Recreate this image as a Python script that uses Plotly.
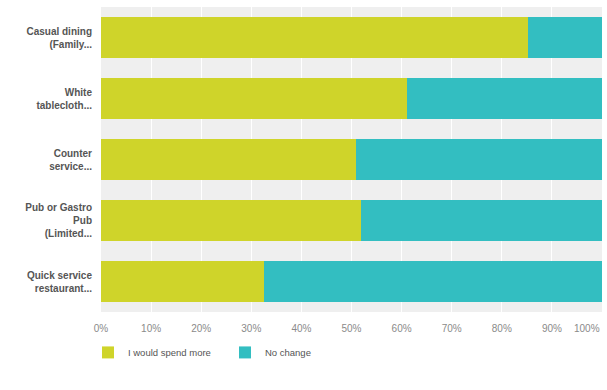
import plotly.graph_objects as go

# Survey answers per restaurant type (percent of respondents)
categories = [
    "Casual dining<br>(Family...",
    "White<br>tablecloth...",
    "Counter<br>service...",
    "Pub or Gastro<br>Pub<br>(Limited...",
    "Quick service<br>restaurant...",
]
spend_more = [85.2, 61.1, 50.9, 51.9, 32.6]
no_change = [100 - v for v in spend_more]
series_names = ["I would spend more", "No change"]
tick_vals = [0, 10, 20, 30, 40, 50, 60, 70, 80, 90, 100]
tick_text = ["0%", "10%", "20%", "30%", "40%", "50%", "60%", "70%", "80%", "90%", ""]

YELLOW = "#cfd42a"
TEAL = "#33bec1"

fig = go.Figure()
fig.add_trace(go.Bar(
    y=categories, x=spend_more, orientation="h", name=series_names[0],
    marker=dict(color=YELLOW, line=dict(width=0)),
))
fig.add_trace(go.Bar(
    y=categories, x=no_change, orientation="h", name=series_names[1],
    marker=dict(color=TEAL, line=dict(width=0)),
))

# last tick label pinned inside the plot's right edge
fig.add_annotation(
    x=tick_vals[-1], y=0, xref="x", yref="paper", yanchor="top", xanchor="right",
    yshift=-9, text="100%", showarrow=False,
    font=dict(family="Arial, Liberation Sans, sans-serif", size=10, color="#8a8a8a"),
)

fig.update_layout(
    width=607, height=390,
    margin=dict(l=101, r=5, t=6.5, b=77.5, autoexpand=False),
    barmode="stack",
    bargap=0.32,
    paper_bgcolor="white",
    plot_bgcolor="#efefef",
    font=dict(family="Arial, Liberation Sans, sans-serif"),
    showlegend=True,
    legend=dict(
        orientation="h", x=-0.026, xanchor="left", y=-0.085, yanchor="top",
        font=dict(size=9.5, color="#555555"),
        entrywidth=92, entrywidthmode="pixels", traceorder="normal",
    ),
    xaxis=dict(
        range=[0, 100], tickvals=tick_vals, ticktext=tick_text,
        showgrid=True, gridcolor="white", gridwidth=1,
        zeroline=False, showline=False,
        tickfont=dict(size=10, color="#8a8a8a"),
        ticks="", ticklabelstandoff=9, fixedrange=True,
    ),
    yaxis=dict(
        autorange="reversed", showgrid=False, zeroline=False,
        tickfont=dict(size=10, color="#555555", weight="bold"),
        ticks="", ticklabelstandoff=8, fixedrange=True,
    ),
)

fig.write_html("out.html")
